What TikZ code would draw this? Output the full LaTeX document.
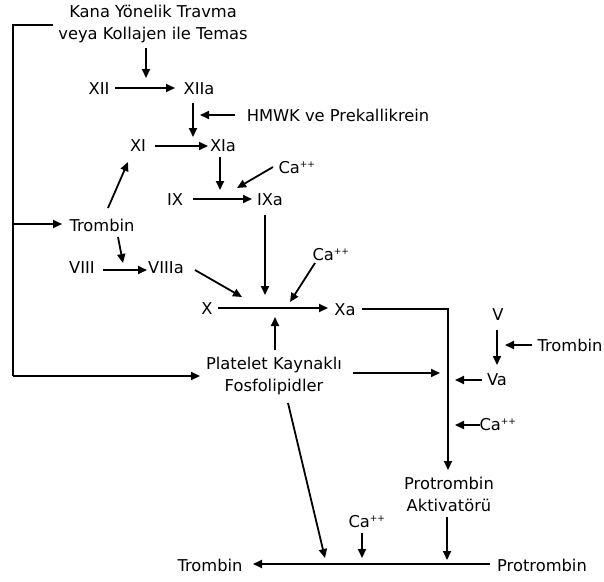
\documentclass[tikz,border=0pt]{standalone}
\usepackage{fontspec}
\setmainfont{DejaVu Sans}
\usetikzlibrary{arrows.meta}
\newcommand{\plusplus}{\textsuperscript{\fontsize{9}{9}\selectfont ++}}
\begin{document}
\begin{tikzpicture}[x=1pt,y=-1pt,
  lbl/.style={font=\fontsize{16.3}{22}\selectfont, inner sep=0pt, align=center},
  ln/.style={line width=1.8pt},
  arr/.style={line width=1.8pt, -{Triangle[length=9pt,width=8pt]}}]
\useasboundingbox (0,0) rectangle (604,581);
% labels
\node[lbl] (trauma) at (153,24) {Kana Yönelik Travma\\veya Kollajen ile Temas};
\node[lbl] (XII) at (99,89) {XII};
\node[lbl] (XIIa) at (199,89) {XIIa};
\node[lbl] (HMWK) at (338,115) {HMWK ve Prekallikrein};
\node[lbl] (XI) at (138,146) {XI};
\node[lbl] (XIa) at (223,146) {XIa};
\node[lbl] (CaA) at (297,168) {Ca\plusplus};
\node[lbl] (IX) at (175,200) {IX};
\node[lbl] (IXa) at (270,200) {IXa};
\node[lbl] (CaB) at (331,255) {Ca\plusplus};
\node[lbl] (TrL) at (102,225) {Trombin};
\node[lbl] (VIII) at (82,268) {VIII};
\node[lbl] (VIIIa) at (166,268) {VIIIa};
\node[lbl] (X) at (207,309) {X};
\node[lbl] (Xa) at (345,310) {Xa};
\node[lbl] (Plat) at (274,376) {Platelet Kaynaklı\\Fosfolipidler};
\node[lbl] (V) at (498,315) {V};
\node[lbl] (TrR) at (570,345) {Trombin};
\node[lbl] (Va) at (497,380) {Va};
\node[lbl] (CaC) at (498,425) {Ca\plusplus};
\node[lbl] (PA) at (449,494) {Protrombin\\Aktivatörü};
\node[lbl] (CaD) at (367,522) {Ca\plusplus};
\node[lbl] (TrB) at (210,565) {Trombin};
\node[lbl] (PT) at (542,565) {Protrombin};
% coordinates
\coordinate (b1) at (53,25);
\coordinate (b2) at (13,25);
\coordinate (b3) at (13,376);
\coordinate (b4) at (200,376);
\coordinate (bm) at (13,224);
\coordinate (bt) at (62,224);
\coordinate (t1) at (146,48);  \coordinate (t2) at (146,78);
\coordinate (r1a) at (115,88); \coordinate (r1b) at (175,88);
\coordinate (d1a) at (193,103); \coordinate (d1b) at (193,137);
\coordinate (h1) at (235,115); \coordinate (h2) at (200,115);
\coordinate (r2a) at (155,146); \coordinate (r2b) at (208,146);
\coordinate (d2a) at (220,157); \coordinate (d2b) at (220,190);
\coordinate (c1a) at (273,167); \coordinate (c1b) at (237,188);
\coordinate (r3a) at (193,199); \coordinate (r3b) at (252,199);
\coordinate (d3a) at (265,215); \coordinate (d3b) at (265,295);
\coordinate (c2a) at (315,263); \coordinate (c2b) at (290,302);
\coordinate (tx1) at (108,208); \coordinate (tx2) at (128,162);
\coordinate (tv1) at (118,237); \coordinate (tv2) at (123,263);
\coordinate (r4a) at (103,270); \coordinate (r4b) at (147,270);
\coordinate (v8a) at (195,270); \coordinate (v8b) at (242,297);
\coordinate (r5a) at (218,308); \coordinate (r5b) at (328,308);
\coordinate (pu1) at (275,350); \coordinate (pu2) at (275,317);
\coordinate (xa1) at (362,309); \coordinate (xa2) at (448,309); \coordinate (xa3) at (448,470);
\coordinate (pr1) at (353,373); \coordinate (pr2) at (440,373);
\coordinate (v1) at (497,330); \coordinate (v2) at (497,365);
\coordinate (tr1) at (532,345); \coordinate (tr2) at (505,345);
\coordinate (va1) at (482,380); \coordinate (va2) at (455,380);
\coordinate (cc1) at (480,425); \coordinate (cc2) at (455,425);
\coordinate (pa1) at (447,517); \coordinate (pa2) at (447,560);
\coordinate (bt1) at (490,564); \coordinate (bt2) at (253,564);
\coordinate (cd1) at (362,533); \coordinate (cd2) at (362,558);
\coordinate (pf1) at (288,403); \coordinate (pf2) at (325,558);
% connectors
\draw[ln] (b1) -- (b2) -- (b3);
\draw[arr] (b3) -- (b4);
\draw[arr] (bm) -- (bt);
\draw[arr] (t1) -- (t2);
\draw[arr] (r1a) -- (r1b);
\draw[arr] (d1a) -- (d1b);
\draw[arr] (h1) -- (h2);
\draw[arr] (r2a) -- (r2b);
\draw[arr] (d2a) -- (d2b);
\draw[arr] (c1a) -- (c1b);
\draw[arr] (r3a) -- (r3b);
\draw[arr] (d3a) -- (d3b);
\draw[arr] (c2a) -- (c2b);
\draw[arr] (tx1) -- (tx2);
\draw[arr] (tv1) -- (tv2);
\draw[arr] (r4a) -- (r4b);
\draw[arr] (v8a) -- (v8b);
\draw[arr] (r5a) -- (r5b);
\draw[arr] (pu1) -- (pu2);
\draw[arr] (xa1) -- (xa2) -- (xa3);
\draw[arr] (pr1) -- (pr2);
\draw[arr] (v1) -- (v2);
\draw[arr] (tr1) -- (tr2);
\draw[arr] (va1) -- (va2);
\draw[arr] (cc1) -- (cc2);
\draw[arr] (pa1) -- (pa2);
\draw[arr] (bt1) -- (bt2);
\draw[arr] (cd1) -- (cd2);
\draw[arr] (pf1) -- (pf2);
\end{tikzpicture}
\end{document}
